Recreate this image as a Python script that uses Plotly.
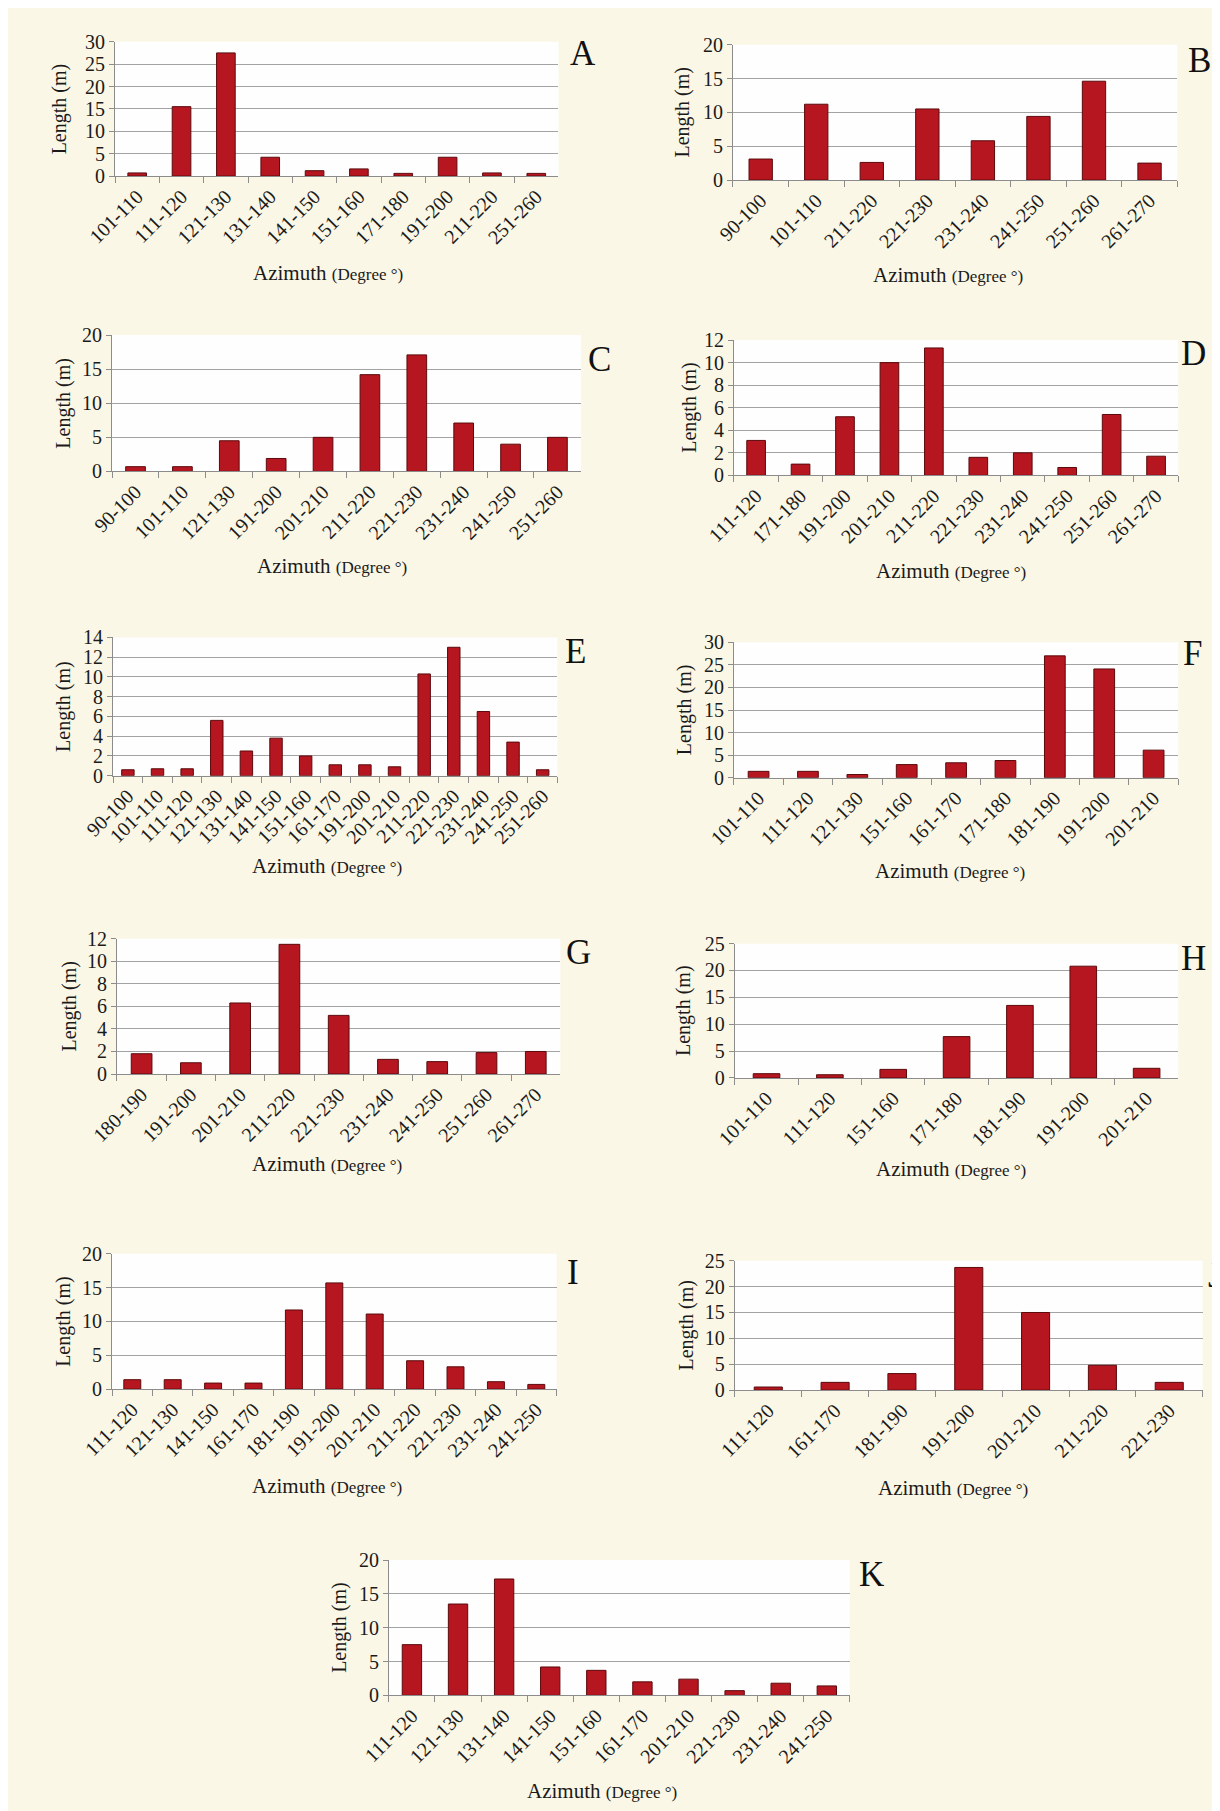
import plotly.graph_objects as go

# ---------------- data ----------------
A_cats = ["101-110", "111-120", "121-130", "131-140", "141-150", "151-160", "171-180", "191-200", "211-220", "251-260"]
A_vals = [0.7, 15.5, 27.5, 4.2, 1.2, 1.6, 0.6, 4.2, 0.7, 0.6]

B_cats = ["90-100", "101-110", "211-220", "221-230", "231-240", "241-250", "251-260", "261-270"]
B_vals = [3.1, 11.2, 2.6, 10.5, 5.8, 9.4, 14.6, 2.5]

C_cats = ["90-100", "101-110", "121-130", "191-200", "201-210", "211-220", "221-230", "231-240", "241-250", "251-260"]
C_vals = [0.7, 0.7, 4.5, 1.9, 5.0, 14.2, 17.1, 7.1, 4.0, 5.0]

D_cats = ["111-120", "171-180", "191-200", "201-210", "211-220", "221-230", "231-240", "241-250", "251-260", "261-270"]
D_vals = [3.1, 1.0, 5.2, 10.0, 11.3, 1.6, 2.0, 0.7, 5.4, 1.7]

E_cats = ["90-100", "101-110", "111-120", "121-130", "131-140", "141-150", "151-160", "161-170", "191-200", "201-210",
          "211-220", "221-230", "231-240", "241-250", "251-260"]
E_vals = [0.6, 0.7, 0.7, 5.6, 2.5, 3.8, 2.0, 1.1, 1.1, 0.9, 10.3, 13.0, 6.5, 3.4, 0.6]

F_cats = ["101-110", "111-120", "121-130", "151-160", "161-170", "171-180", "181-190", "191-200", "201-210"]
F_vals = [1.4, 1.4, 0.7, 2.9, 3.3, 3.8, 27.0, 24.1, 6.1]

G_cats = ["180-190", "191-200", "201-210", "211-220", "221-230", "231-240", "241-250", "251-260", "261-270"]
G_vals = [1.8, 1.0, 6.3, 11.5, 5.2, 1.3, 1.1, 1.9, 2.0]

H_cats = ["101-110", "111-120", "151-160", "171-180", "181-190", "191-200", "201-210"]
H_vals = [0.8, 0.6, 1.6, 7.7, 13.5, 20.8, 1.8]

I_cats = ["111-120", "121-130", "141-150", "161-170", "181-190", "191-200", "201-210", "211-220", "221-230", "231-240", "241-250"]
I_vals = [1.4, 1.4, 0.9, 0.9, 11.7, 15.7, 11.1, 4.2, 3.3, 1.1, 0.7]

J_cats = ["111-120", "161-170", "181-190", "191-200", "201-210", "211-220", "221-230"]
J_vals = [0.6, 1.5, 3.2, 23.7, 15.0, 4.8, 1.5]

K_cats = ["111-120", "121-130", "131-140", "141-150", "151-160", "161-170", "201-210", "221-230", "231-240", "241-250"]
K_vals = [7.5, 13.5, 17.2, 4.2, 3.7, 2.0, 2.4, 0.7, 1.8, 1.4]

panel_letters = ["A", "B", "C", "D", "E", "F", "G", "H", "I", "J", "K"]
panel_cats = [A_cats, B_cats, C_cats, D_cats, E_cats, F_cats, G_cats, H_cats, I_cats, J_cats, K_cats]
panel_vals = [A_vals, B_vals, C_vals, D_vals, E_vals, F_vals, G_vals, H_vals, I_vals, J_vals, K_vals]
y_max = [30, 20, 20, 12, 14, 30, 12, 25, 20, 25, 20]
y_step = [5, 5, 5, 2, 2, 5, 2, 5, 5, 5, 5]

x_title = "Azimuth <span style='font-size:17px'>(Degree °)</span>"
y_title = "Length (m)"

# ---------------- layout (pixels) ----------------
W, H = 1220, 1811
# (x0, x1, ytop, yzero, ytitle_x, letter_x, letter_y, xtitle_x, xtitle_y)
boxes = [
    (78, 533, 23, 159, 21, 558, 35, 297, 257),
    (712, 1168, 26, 163, 660, 1191, 42, 933, 259),
    (75, 556, 320, 458, 25, 575, 345, 301, 554),
    (713, 1169, 325, 462, 668, 1185, 339, 936, 559),
    (76, 532, 626, 766, 25, 550, 640, 295, 857),
    (713, 1169, 631, 768, 662, 1184, 642, 935, 862),
    (80, 535, 931, 1068, 31, 554, 945, 295, 1159),
    (714, 1169, 936, 1072, 662, 1185, 951, 936, 1164),
    (75, 531, 1250, 1387, 25, 548, 1269, 295, 1485),
    (714, 1194, 1257, 1388, 664, 1207, 1272, 938, 1487),
    (359, 832, 1560, 1697, 309, 854, 1575, 578, 1794),
]

FONT = "Liberation Serif, Times New Roman, serif"
BAR = "#B5161F"
EDGE = "#5C0A0D"
GRID = "#A3A3A3"
AXIS = "#8c8c8c"
TXT = "#1a1a1a"

fig = go.Figure()
annotations = []
layout = {}


def fx(px):
    return px / W


def fy(py):
    return 1 - py / H


for i, (letter, cats, vals) in enumerate(zip(panel_letters, panel_cats, panel_vals)):
    n = i + 1
    xa = "x" if n == 1 else f"x{n}"
    ya = "y" if n == 1 else f"y{n}"
    x0, x1, yt, y0, ytx, lx, ly, tx, ty = boxes[i]
    fig.add_trace(go.Bar(
        x=cats, y=vals, xaxis=xa, yaxis=ya,
        marker=dict(color=BAR, line=dict(color=EDGE, width=1)),
        width=0.42, showlegend=False,
    ))
    layout[f"xaxis{'' if n == 1 else n}"] = dict(
        domain=[fx(x0), fx(x1)], anchor=ya, type="category",
        tickangle=-45, tickfont=dict(family=FONT, size=20, color=TXT),
        showline=True, linecolor=AXIS, linewidth=1,
        ticks="outside", ticklen=6, tickcolor=AXIS, tickson="boundaries",
        showgrid=False, zeroline=False, fixedrange=True,
    )
    layout[f"yaxis{'' if n == 1 else n}"] = dict(
        domain=[fy(y0), fy(yt)], anchor=xa, range=[0, y_max[i]], dtick=y_step[i],
        tickfont=dict(family=FONT, size=20, color=TXT),
        showline=True, linecolor=AXIS, linewidth=1,
        ticks="outside", ticklen=5, tickcolor=AXIS,
        showgrid=True, gridcolor=GRID, gridwidth=1, zeroline=False, fixedrange=True,
    )
    annotations.append(dict(
        text=y_title, x=fx(ytx), y=fy((yt + y0) / 2), xref="paper", yref="paper",
        textangle=-90, showarrow=False, xanchor="center", yanchor="middle",
        font=dict(family=FONT, size=20, color=TXT),
    ))
    annotations.append(dict(
        text=x_title, x=fx(tx), y=fy(ty), xref="paper", yref="paper",
        showarrow=False, xanchor="center", yanchor="middle",
        font=dict(family=FONT, size=21, color=TXT),
    ))
    annotations.append(dict(
        text=letter, x=fx(lx), y=fy(ly), xref="paper", yref="paper",
        showarrow=False, xanchor="center", yanchor="middle",
        font=dict(family=FONT, size=35, color="#111111"),
    ))

shapes = []
for (x0, x1, yt, y0, *_rest) in boxes:
    shapes.append(dict(type="rect", xref="paper", yref="paper",
                       x0=fx(x0), x1=fx(x1), y0=fy(y0), y1=fy(yt),
                       fillcolor="#FEFEFE", line=dict(width=0), layer="below"))

fig.update_layout(
    width=W, height=H,
    margin=dict(l=0, r=0, t=0, b=0),
    paper_bgcolor="#FAF7E6",
    plot_bgcolor="rgba(0,0,0,0)",
    annotations=annotations,
    shapes=shapes,
    **layout,
)

fig.write_html("out.html")
